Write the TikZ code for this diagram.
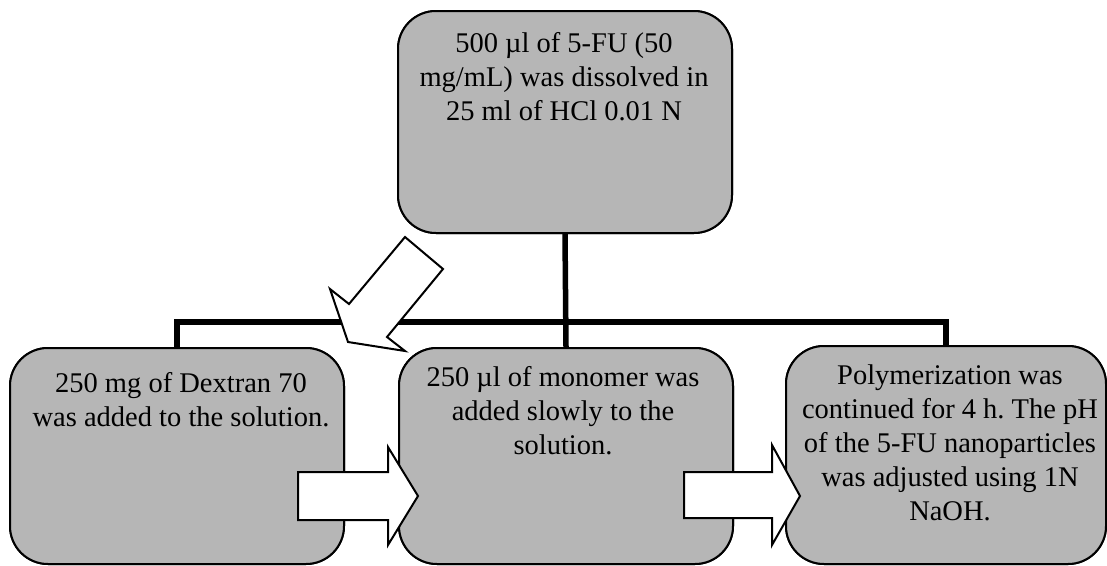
\documentclass[tikz,border=0pt]{standalone}
\usepackage{fontspec}
\setmainfont{Liberation Serif}
\frenchspacing
\definecolor{boxgray}{RGB}{182,182,182}
\tikzset{
  stepbox/.style={draw=black, line width=2pt, fill=boxgray, rounded corners=38pt,
    inner sep=0pt, anchor=north west},
  txt/.style={align=center, inner sep=0pt, anchor=north,
    font=\fontsize{28.5}{34}\selectfont},
  conn/.style={line width=5.5pt, line join=miter, line cap=rect},
  blockarrow/.style={draw=black, line width=2pt, fill=white, line join=miter},
}
\begin{document}
\begin{tikzpicture}[x=1pt,y=-1pt]
\useasboundingbox (0,0) rectangle (1107,565);
% boxes (named, used as connector ends)
\path
  node[stepbox, minimum width=334pt, minimum height=222pt] (top) at (397,10) {}
  node[stepbox, minimum width=334pt, minimum height=216pt] (left) at (9,347) {}
  node[stepbox, minimum width=334pt, minimum height=216pt] (mid) at (398,347) {}
  node[stepbox, minimum width=320pt, minimum height=218pt] (right) at (785,345) {};
% connectors
\draw[conn] (top.south) -- (mid.north);
\draw[conn] (left.north) -- ++(0,-25) -| (right.north);
% redraw boxes above connectors
\path
  node[stepbox, minimum width=334pt, minimum height=222pt] at (397,10) {}
  node[stepbox, minimum width=334pt, minimum height=216pt] at (9,347) {}
  node[stepbox, minimum width=334pt, minimum height=216pt] at (398,347) {}
  node[stepbox, minimum width=320pt, minimum height=218pt] at (785,345) {};
% texts
\node[txt] (toptext) at (564,32) {500 µl of 5-FU (50\\mg/mL) was dissolved in\\25 ml of HCl 0.01 N};
\node[txt] (lefttext) at (181,372) {250 mg of Dextran 70\\was added to the solution.};
\node[txt] (midtext) at (563,366) {250 µl of monomer was\\added slowly to the\\solution.};
\node[txt] (righttext) at (950,365) {Polymerization was\\continued for 4 h. The pH\\of the 5-FU nanoparticles\\was adjusted using 1N\\NaOH.};
% block arrows
\draw[blockarrow] (298,472) -- (388,472) -- (388,447) -- (418,496) -- (388,545) -- (388,520) -- (298,520) -- cycle;
\draw[blockarrow] (684,472) -- (772,472) -- (772,445) -- (800,496) -- (772,545) -- (772,518) -- (684,518) -- cycle;
\draw[blockarrow] (405,237) -- (349,304) -- (330,289) -- (348,342) -- (405,351) -- (387,337) -- (443,269) -- cycle;
\end{tikzpicture}
\end{document}
